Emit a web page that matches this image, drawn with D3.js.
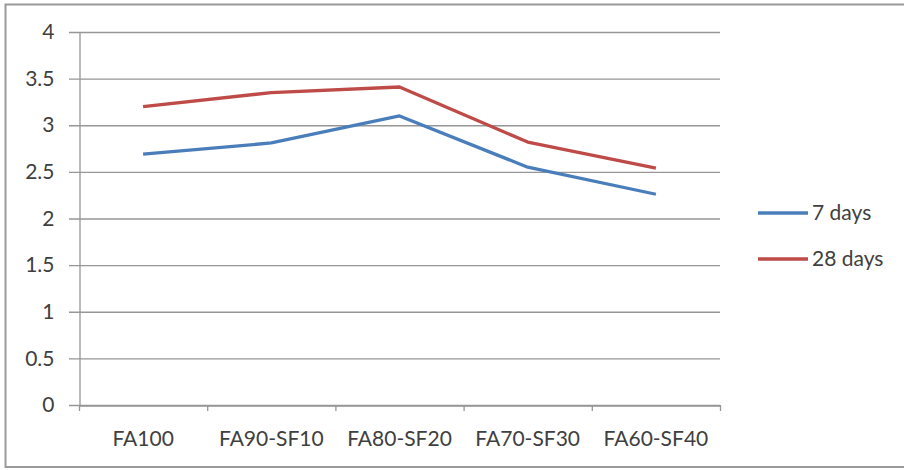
<!DOCTYPE html>
<html>
<head>
<meta charset="utf-8">
<script src="https://cdn.jsdelivr.net/npm/d3@7"></script>
<style>
html,body{margin:0;padding:0;background:#fff;}
svg{display:block;}
text{font-family:Lato,"Open Sans",sans-serif;fill:#404040;}
</style>
</head>
<body>
<svg id="chart" width="904" height="470"></svg>
<script>
const categories = ["FA100","FA90-SF10","FA80-SF20","FA70-SF30","FA60-SF40"];
const seriesNames = ["7 days","28 days"];
const days7 = [2.69, 2.81, 3.10, 2.55, 2.26];
const days28 = [3.20, 3.35, 3.41, 2.82, 2.54];
const seriesColors = ["#4A7EBB","#BE4B48"];
const yTicks = [0,0.5,1,1.5,2,2.5,3,3.5,4];

const svg = d3.select("#chart");
const fs = 21;
// outer border
svg.append("rect").attr("x",5.5).attr("y",4.5).attr("width",904).attr("height",462.5)
  .attr("fill","#fff").attr("stroke","#9a9a9a").attr("stroke-width",2);

const mLeft = 79, mRight = 720, mTop = 32, mBottom = 405;
const x = d3.scaleBand().domain(categories).range([mLeft,mRight]).paddingInner(0).paddingOuter(0);
const y = d3.scaleLinear().domain([0,4]).range([mBottom,mTop]);

// gridlines
svg.append("g").selectAll("line").data(yTicks).join("line")
  .attr("x1",69).attr("x2",mRight)
  .attr("y1",d=>y(d)+0.5).attr("y2",d=>y(d)+0.5)
  .attr("stroke","#969696").attr("stroke-width",1.3);

// y axis
const yAxis = svg.append("g").attr("transform",`translate(${mLeft+0.5},0)`)
  .call(d3.axisLeft(y).tickValues(yTicks).tickSize(0).tickPadding(25).tickFormat(d3.format("")));
yAxis.select(".domain").attr("stroke","#969696").attr("stroke-width",1.3);
yAxis.selectAll("text").attr("font-size",fs).style("fill","#404040");

// x axis
const xAxis = svg.append("g").attr("transform",`translate(0,${mBottom+0.5})`)
  .call(d3.axisBottom(x).tickSize(0).tickPadding(26));
xAxis.select(".domain").attr("stroke","#969696").attr("stroke-width",1.3);
xAxis.selectAll("text").attr("font-size",fs).style("fill","#404040");
// category boundary ticks
const bounds = categories.map(c=>x(c)).concat([mRight]);
svg.append("g").selectAll("line").data(bounds).join("line")
  .attr("x1",d=>d+0.5).attr("x2",d=>d+0.5).attr("y1",mBottom).attr("y2",mBottom+6)
  .attr("stroke","#969696").attr("stroke-width",1.3);

// lines
const line = d3.line().x((d,i)=>x(categories[i])+x.bandwidth()/2).y(d=>y(d));
[days7, days28].forEach((s,i)=>{
  svg.append("path").datum(s).attr("d",line).attr("fill","none")
    .attr("stroke",seriesColors[i]).attr("stroke-width",3.3).attr("stroke-linejoin","round");
});

// legend
const lg = svg.append("g");
seriesNames.forEach((n,i)=>{
  const ly = 213 + i*46;
  lg.append("line").attr("x1",758).attr("x2",808).attr("y1",ly).attr("y2",ly)
    .attr("stroke",seriesColors[i]).attr("stroke-width",3.3);
  lg.append("text").attr("x",812).attr("y",ly).attr("dy","0.35em")
    .attr("font-size",fs).text(n);
});
</script>
</body>
</html>
